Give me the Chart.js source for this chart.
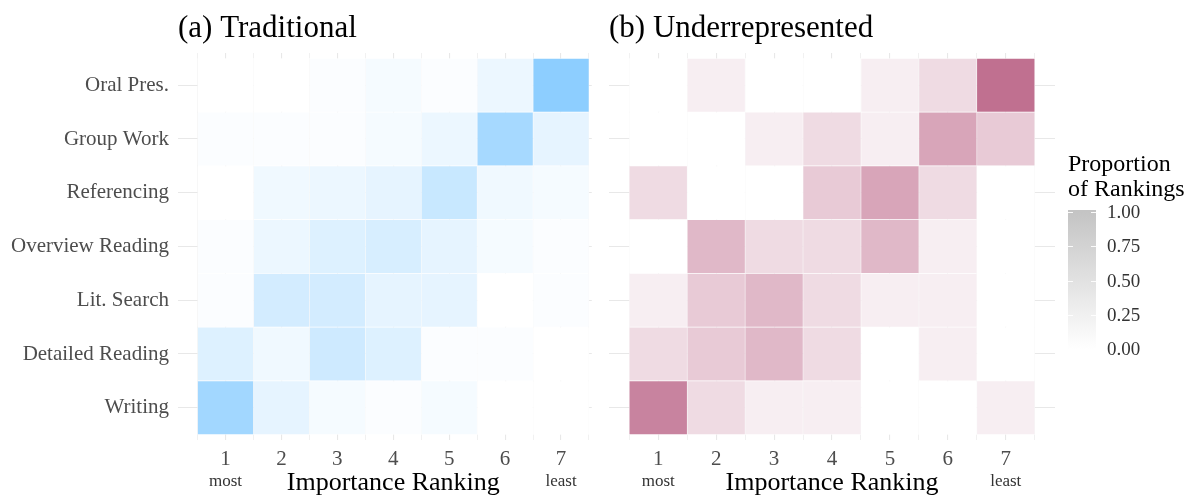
<!DOCTYPE html>
<html>
<head>
<meta charset="utf-8">
<script src="https://cdn.jsdelivr.net/npm/chart.js@4.4.1/dist/chart.umd.min.js"></script>
<style>
  html, body { margin: 0; padding: 0; background: #fff; }
  #wrap { position: relative; width: 1192px; height: 498px; overflow: hidden; }
  canvas { position: absolute; top: 0; }
  #trad { left: 0; }
  #under { left: 596px; }
</style>
</head>
<body>
<div id="wrap">
  <canvas id="trad" width="596" height="498"></canvas>
  <canvas id="under" width="596" height="498"></canvas>
</div>
<script>
// Skills, listed top row first
const skills = ['Oral Pres.', 'Group Work', 'Referencing', 'Overview Reading',
                'Lit. Search', 'Detailed Reading', 'Writing'];
// Importance rankings on the x axis
const ranks = [1, 2, 3, 4, 5, 6, 7];
// Notes printed under the two ends of the ranking axis
const rankNotes = [[1, 'most'], [7, 'least']];

// Proportion of rankings per skill (rows) and rank 1..7 (columns)
const traditional = [
  [0.00, 0.00, 0.03, 0.07, 0.03, 0.13, 0.77],
  [0.03, 0.03, 0.03, 0.07, 0.13, 0.60, 0.17],
  [0.00, 0.10, 0.13, 0.17, 0.37, 0.10, 0.07],
  [0.03, 0.13, 0.23, 0.27, 0.17, 0.07, 0.03],
  [0.03, 0.30, 0.30, 0.17, 0.17, 0.00, 0.03],
  [0.23, 0.10, 0.33, 0.23, 0.03, 0.03, 0.00],
  [0.63, 0.17, 0.07, 0.03, 0.07, 0.00, 0.00]
];
const underrepresented = [
  [0.00, 0.08, 0.00, 0.00, 0.08, 0.17, 0.67],
  [0.00, 0.00, 0.08, 0.17, 0.08, 0.42, 0.25],
  [0.17, 0.00, 0.00, 0.25, 0.42, 0.17, 0.00],
  [0.00, 0.33, 0.17, 0.17, 0.33, 0.08, 0.00],
  [0.08, 0.25, 0.33, 0.17, 0.08, 0.08, 0.00],
  [0.17, 0.25, 0.33, 0.17, 0.00, 0.08, 0.00],
  [0.58, 0.17, 0.08, 0.08, 0.00, 0.00, 0.08]
];
// Colour-bar tick values
const legendTicks = [1.00, 0.75, 0.50, 0.25, 0.00];
const legendTitle = ['Proportion', 'of Rankings'];

const SERIF = '"Liberation Serif", "DejaVu Serif", serif';
const GRID = '#e8e8e8';

// Fill for a proportion: blend from white towards the panel colour
function mix(high, v) {
  const c = high.map(h => Math.round(255 + (h - 255) * v));
  return `rgb(${c[0]},${c[1]},${c[2]})`;
}

function makeDatasets(values, high) {
  return ranks.map((r, j) => ({
    data: skills.map((s, i) => ({ y: skills.length - i, x: [r - 0.5, r + 0.5], v: values[i][j] })),
    backgroundColor: ctx => mix(high, ctx.raw ? ctx.raw.v : 0),
    borderColor: 'rgba(255,255,255,0.5)',
    borderWidth: 0.6,
    borderSkipped: false,
    grouped: false,
    barPercentage: 1,
    categoryPercentage: 1
  }));
}

// Panel title, axis title and the most/least notes
const panelText = {
  id: 'panelText',
  afterDraw(chart, args, opts) {
    const { ctx, chartArea, scales: { x } } = chart;
    ctx.save();
    ctx.textBaseline = 'alphabetic';
    ctx.fillStyle = '#000';
    ctx.font = '31px ' + SERIF;
    ctx.textAlign = 'left';
    ctx.fillText(opts.title, chartArea.left, 37);
    ctx.font = '26px ' + SERIF;
    ctx.textAlign = 'center';
    const mid = (x.getPixelForValue(ranks[0] - 0.5) + x.getPixelForValue(ranks[ranks.length - 1] + 0.5)) / 2;
    ctx.fillText('Importance Ranking', mid, 490);
    ctx.font = '17px ' + SERIF;
    ctx.fillStyle = '#333';
    for (const [r, note] of rankNotes) ctx.fillText(note, x.getPixelForValue(r), 486);
    ctx.restore();
  }
};

// Grey colour bar with its title, drawn to the right of the plot area
const colourBar = {
  id: 'colourBar',
  afterDraw(chart, args, opts) {
    if (!opts.show) return;
    const { ctx } = chart;
    const left = opts.left, w = 28, top1 = 212, top0 = 349;
    const y = v => top0 - (top0 - top1) * v;
    ctx.save();
    ctx.fillStyle = '#000';
    ctx.font = '24px ' + SERIF;
    ctx.textAlign = 'left';
    ctx.textBaseline = 'alphabetic';
    legendTitle.forEach((t, i) => ctx.fillText(t, left, 171 + i * 25));
    const g = ctx.createLinearGradient(0, top0, 0, top1);
    g.addColorStop(0, '#ffffff');
    g.addColorStop(1, '#c4c4c4');
    ctx.fillStyle = g;
    ctx.fillRect(left, top1 - 2, w, top0 - top1 + 3);
    ctx.strokeStyle = 'rgba(255,255,255,0.9)';
    ctx.lineWidth = 1;
    ctx.font = '19px ' + SERIF;
    ctx.textBaseline = 'middle';
    for (const v of legendTicks) {
      const py = Math.round(y(v)) + 0.5;
      ctx.beginPath();
      ctx.moveTo(left, py); ctx.lineTo(left + 5, py);
      ctx.moveTo(left + w - 5, py); ctx.lineTo(left + w, py);
      ctx.stroke();
      ctx.fillStyle = '#333';
      ctx.fillText(v.toFixed(2), left + 39, py + 1);
    }
    ctx.restore();
  }
};

function heatmap(id, values, high, title, opts) {
  const xTicks = [];
  for (let v = 0.5; v <= 7.5; v += 0.5) xTicks.push(v);
  return new Chart(document.getElementById(id), {
    type: 'bar',
    data: { datasets: makeDatasets(values, high) },
    options: {
      indexAxis: 'y',
      responsive: false,
      animation: false,
      events: [],
      layout: { padding: { top: 53, right: opts.padRight, bottom: 0, left: 0 } },
      plugins: {
        legend: { display: false },
        tooltip: { enabled: false },
        title: { display: false },
        panelText: { title },
        colourBar: { show: opts.legend, left: 472 }
      },
      scales: {
        x: {
          type: 'linear',
          min: 0.15,
          max: opts.xMax,
          offset: false,
          afterBuildTicks: s => { s.ticks = xTicks.map(v => ({ value: v })); },
          afterFit: s => { s.height = 58; },
          border: { display: false },
          grid: {
            offset: false,
            color: GRID,
            lineWidth: c => (c.tick && Number.isInteger(c.tick.value)) ? 1.1 : 0.6,
            drawTicks: false
          },
          ticks: {
            autoSkip: false,
            maxRotation: 0,
            padding: 7,
            color: '#4d4d4d',
            font: { family: SERIF, size: 21 },
            callback: v => Number.isInteger(v) ? String(v) : ''
          }
        },
        y: {
          type: 'linear',
          min: 0.4,
          max: 7.6,
          offset: false,
          afterBuildTicks: s => { s.ticks = skills.map((_, i) => ({ value: i + 1 })); },
          afterFit: s => { s.width = opts.yWidth; },
          border: { display: false },
          grid: { offset: false, color: GRID, lineWidth: 1.1, drawTicks: false },
          ticks: {
            display: opts.yLabels,
            padding: 9,
            color: '#4d4d4d',
            font: { family: SERIF, size: 21 },
            callback: v => skills[skills.length - v]
          }
        }
      }
    },
    plugins: [panelText, colourBar]
  });
}

heatmap('trad', traditional, [107, 192, 255], '(a) Traditional',
        { yWidth: 178, padRight: 1, xMax: 7.55, yLabels: true, legend: false });
heatmap('under', underrepresented, [161, 41, 89], '(b) Underrepresented',
        { yWidth: 13, padRight: 137, xMax: 7.85, yLabels: false, legend: true });
</script>
</body>
</html>
